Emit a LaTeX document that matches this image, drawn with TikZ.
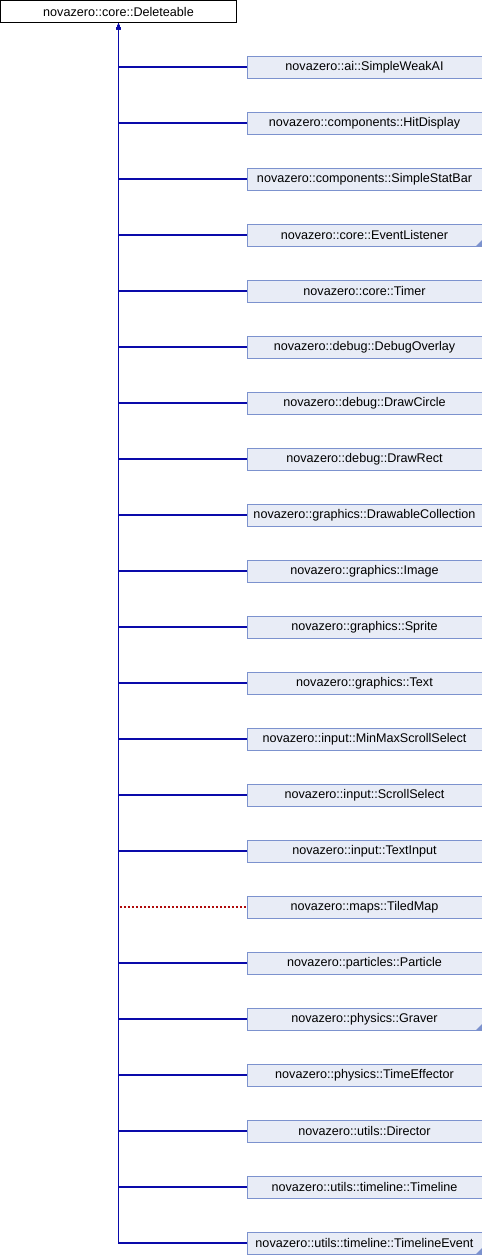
\documentclass[tikz,border=0pt]{standalone}
\usepackage{fontspec}
\setmainfont{Liberation Sans}
\usetikzlibrary{arrows.meta}
\definecolor{nodefill}{RGB}{232,236,246}
\definecolor{nodeline}{RGB}{124,146,206}
\definecolor{edgeblue}{RGB}{10,10,170}
\definecolor{edgered}{RGB}{175,10,10}
\tikzset{
  cls/.style={draw=nodeline, fill=nodefill, line width=1pt, minimum width=235pt, minimum height=22pt, inner sep=0pt, font=\fontsize{12.6}{14}\selectfont, anchor=west},
  rootcls/.style={draw=black, fill=white, line width=1pt, minimum width=236pt, minimum height=22pt, inner sep=0pt, font=\fontsize{12.6}{14}\selectfont},
  pub/.style={color=edgeblue, line width=1.1pt, {Latex[length=6pt,width=5pt]}-},
  priv/.style={color=edgered, line width=1.1pt, dash pattern=on 2pt off 2pt, {Latex[length=6pt,width=5pt]}-},
  trunc/.style={fill=nodeline, draw=none}
}
\begin{document}
\begin{tikzpicture}[x=1pt,y=-1pt]
\useasboundingbox (0,0) rectangle (482,1256);
\node[rootcls] (root) at (118.5,11.5) {novazero::core::Deleteable};
\foreach \i/\name/\txt in {
 0/c0/{novazero::ai::SimpleWeakAI},
 1/c1/{novazero::components::HitDisplay},
 2/c2/{novazero::components::SimpleStatBar},
 3/c3/{novazero::core::EventListener},
 4/c4/{novazero::core::Timer},
 5/c5/{novazero::debug::DebugOverlay},
 6/c6/{novazero::debug::DrawCircle},
 7/c7/{novazero::debug::DrawRect},
 8/c8/{novazero::graphics::DrawableCollection},
 9/c9/{novazero::graphics::Image},
 10/c10/{novazero::graphics::Sprite},
 11/c11/{novazero::graphics::Text},
 12/c12/{novazero::input::MinMaxScrollSelect},
 13/c13/{novazero::input::ScrollSelect},
 14/c14/{novazero::input::TextInput},
 15/c15/{novazero::maps::TiledMap},
 16/c16/{novazero::particles::Particle},
 17/c17/{novazero::physics::Graver},
 18/c18/{novazero::physics::TimeEffector},
 19/c19/{novazero::utils::Director},
 20/c20/{novazero::utils::timeline::Timeline},
 21/c21/{novazero::utils::timeline::TimelineEvent}}
{
  \node[cls] (\name) at (246.5,{67+56*\i}) {\txt};
}
% truncation markers
\foreach \n in {c3,c17,c21}{
  \fill[trunc] ([xshift=-0.5pt,yshift=0.5pt]\n.south east) -- ++(0,-6) -- ++(-6,6) -- cycle;
}
% private inheritance (drawn first, below the blue lines)
\draw[priv] (root.south) |- (c15.west);
% public inheritance
\foreach \n in {c0,c1,c2,c3,c4,c5,c6,c7,c8,c9,c10,c11,c12,c13,c14,c16,c17,c18,c19,c20,c21}{
  \draw[pub] (root.south) |- (\n.west);
}
\end{tikzpicture}
\end{document}
